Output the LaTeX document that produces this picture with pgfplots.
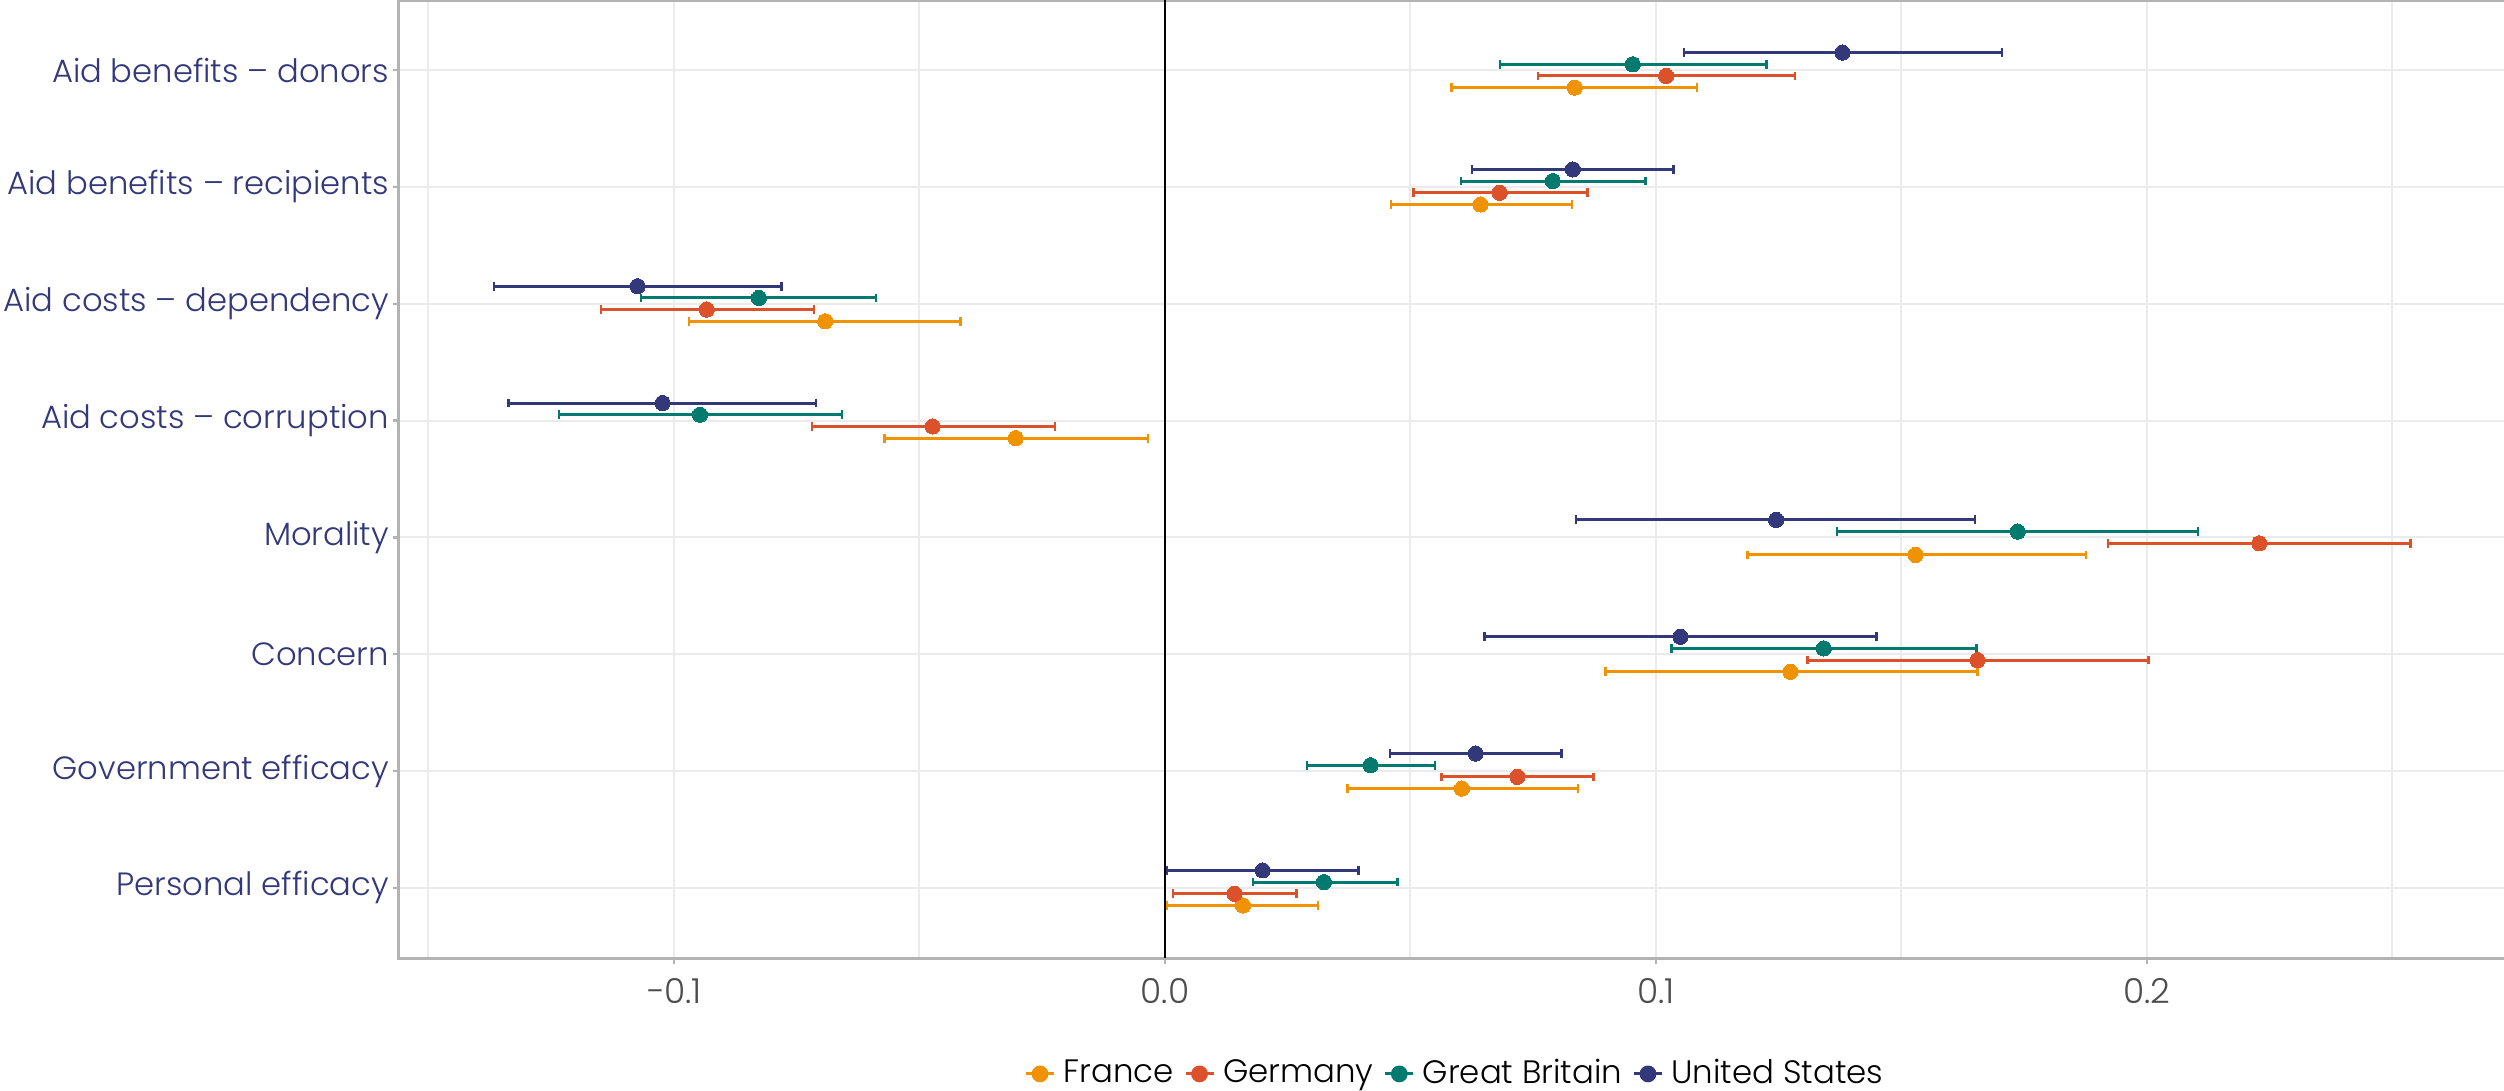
\documentclass[border=0pt]{standalone}
\usepackage{fontspec}
\setmainfont{Poppins}[UprightFont=* Light]
\usepackage{pgfplots}
\usepackage{pgfplotstable}
\pgfplotsset{compat=1.18}

\definecolor{cFR}{RGB}{241,146,0}
\definecolor{cDE}{RGB}{221,81,42}
\definecolor{cGB}{RGB}{0,122,110}
\definecolor{cUS}{RGB}{50,56,122}
\definecolor{labnavy}{RGB}{50,56,122}
\definecolor{gridgray}{RGB}{235,235,235}
\definecolor{framegray}{RGB}{179,179,179}
\definecolor{tickgray}{RGB}{77,77,77}

% cat: 1 = Personal efficacy ... 8 = Aid benefits - donors
\pgfplotstableread{
cat val lo hi
8 0.0835 0.0584 0.1084
7 0.0643 0.0460 0.0829
6 -0.0692 -0.0969 -0.0416
5 -0.0304 -0.0571 -0.0035
4 0.1529 0.1187 0.1876
3 0.1274 0.0897 0.1655
2 0.0605 0.0372 0.0842
1 0.0159 0.0004 0.0312
}\tFR
\pgfplotstableread{
cat val lo hi
8 0.1021 0.0760 0.1283
7 0.0682 0.0506 0.0861
6 -0.0933 -0.1148 -0.0715
5 -0.0473 -0.0719 -0.0224
4 0.2229 0.1921 0.2537
3 0.1655 0.1309 0.2003
2 0.0718 0.0563 0.0873
1 0.0142 0.0016 0.0268
}\tDE
\pgfplotstableread{
cat val lo hi
8 0.0953 0.0682 0.1225
7 0.0790 0.0603 0.0979
6 -0.0827 -0.1067 -0.0588
5 -0.0947 -0.1234 -0.0658
4 0.1737 0.1369 0.2104
3 0.1342 0.1032 0.1653
2 0.0419 0.0290 0.0550
1 0.0324 0.0179 0.0474
}\tGB
\pgfplotstableread{
cat val lo hi
8 0.1380 0.1057 0.1705
7 0.0831 0.0626 0.1036
6 -0.1074 -0.1367 -0.0781
5 -0.1023 -0.1337 -0.0711
4 0.1245 0.0837 0.1650
3 0.1050 0.0651 0.1449
2 0.0633 0.0459 0.0808
1 0.0199 0.0004 0.0394
}\tUS

\pgfplotsset{
  ci/.style={
    only marks, mark=*, mark size=1.9pt, color=#1,
    mark options={fill=#1, draw=#1, line width=0pt},
    error bars/.cd, x dir=both, x explicit,
    error mark=|,
    error bar style={line width=0.75pt, color=#1},
    error mark options={line width=0.6pt, mark size=1.1pt, color=#1},
  },
}

\begin{document}
\begin{tikzpicture}
\useasboundingbox (-99.75pt,-33.25pt) rectangle (526.25pt,239.5pt);
\begin{axis}[
  at={(0,0)}, anchor=south west,
  scale only axis,
  width=536.25pt, height=239.5pt,
  xmin=-0.1560, xmax=0.2809,
  ymin=0.4, ymax=8.6,
  axis line style={framegray, line width=0.75pt},
  xtick={-0.1,0,0.1,0.2},
  xticklabels={−0.1,0.0,0.1,0.2},
  minor xtick={-0.15,-0.05,0.05,0.15,0.25},
  ytick={1,2,3,4,5,6,7,8},
  yticklabels={Personal efficacy, Government efficacy, Concern, Morality,
    Aid costs – corruption, Aid costs – dependency,
    Aid benefits – recipients, Aid benefits – donors},
  tick align=outside,
  major tick length=1.5pt, minor tick length=0pt,
  tick style={framegray, line width=0.6pt},
  xtick pos=bottom, ytick pos=left,
  xmajorgrids, xminorgrids, ymajorgrids,
  major grid style={gridgray, line width=0.5pt},
  minor grid style={gridgray, line width=0.5pt},
  yticklabel style={font=\fontsize{8.05}{10}\selectfont, text=labnavy, inner xsep=0.8pt},
  xticklabel style={font=\fontsize{8.6}{10}\selectfont, text=tickgray},
  legend columns=4,
  legend style={draw=none, fill=none, at={(0.4937,-0.121)}, anchor=center,
    font=\fontsize{8.1}{10}\selectfont, text=black, inner xsep=0pt,
    /tikz/every even column/.append style={column sep=0.6pt}},
  legend image code/.code={
    \draw[line width=0.75pt] (0pt,0pt) -- (7pt,0pt);
    \fill (3.5pt,0pt) circle (1.9pt);},
]
\addplot[black, line width=0.6pt, forget plot] coordinates {(0,0.4) (0,8.6)};
\addplot[ci=cFR] table[x=val, y expr=\thisrow{cat}-0.15,
  x error plus expr=\thisrow{hi}-\thisrow{val},
  x error minus expr=\thisrow{val}-\thisrow{lo}] {\tFR};
\addlegendentry{France}
\addplot[ci=cDE] table[x=val, y expr=\thisrow{cat}-0.05,
  x error plus expr=\thisrow{hi}-\thisrow{val},
  x error minus expr=\thisrow{val}-\thisrow{lo}] {\tDE};
\addlegendentry{Germany}
\addplot[ci=cGB] table[x=val, y expr=\thisrow{cat}+0.05,
  x error plus expr=\thisrow{hi}-\thisrow{val},
  x error minus expr=\thisrow{val}-\thisrow{lo}] {\tGB};
\addlegendentry{Great Britain}
\addplot[ci=cUS] table[x=val, y expr=\thisrow{cat}+0.15,
  x error plus expr=\thisrow{hi}-\thisrow{val},
  x error minus expr=\thisrow{val}-\thisrow{lo}] {\tUS};
\addlegendentry{United States}
\end{axis}
\end{tikzpicture}
\end{document}
